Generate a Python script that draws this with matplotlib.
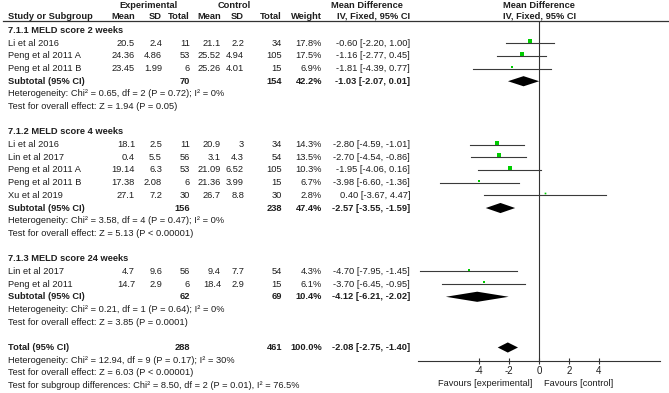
import matplotlib
matplotlib.use('Agg')
import matplotlib.pyplot as plt
from matplotlib.lines import Line2D
from matplotlib.transforms import blended_transform_factory

plt.rcParams['font.family'] = ['Liberation Sans', 'DejaVu Sans']
plt.rcParams['axes.unicode_minus'] = False

# ---- data ----
group_titles = ['7.1.1 MELD score 2 weeks', '7.1.2 MELD score 4 weeks', '7.1.3 MELD score 24 weeks']
study_group = [0, 0, 0, 1, 1, 1, 1, 1, 2, 2]
study_names = ['Li et al 2016', 'Peng et al 2011 A', 'Peng et al 2011 B',
               'Li et al 2016', 'Lin et al 2017', 'Peng et al 2011 A', 'Peng et al 2011 B', 'Xu et al 2019',
               'Lin et al 2017', 'Peng et al 2011']
exp_mean = [20.5, 24.36, 23.45, 18.1, 0.4, 19.14, 17.38, 27.1, 4.7, 14.7]
exp_sd = [2.4, 4.86, 1.99, 2.5, 5.5, 6.3, 2.08, 7.2, 9.6, 2.9]
exp_n = [11, 53, 6, 11, 56, 53, 6, 30, 56, 6]
ctl_mean = [21.1, 25.52, 25.26, 20.9, 3.1, 21.09, 21.36, 26.7, 9.4, 18.4]
ctl_sd = [2.2, 4.94, 4.01, 3, 4.3, 6.52, 3.99, 8.8, 7.7, 2.9]
ctl_n = [34, 105, 15, 34, 54, 105, 15, 30, 54, 15]
weight = [17.8, 17.5, 6.9, 14.3, 13.5, 10.3, 6.7, 2.8, 4.3, 6.1]
md = [-0.60, -1.16, -1.81, -2.80, -2.70, -1.95, -3.98, 0.40, -4.70, -3.70]
md_lo = [-2.20, -2.77, -4.39, -4.59, -4.54, -4.06, -6.60, -3.67, -7.95, -6.45]
md_hi = [1.00, 0.45, 0.77, -1.01, -0.86, 0.16, -1.36, 4.47, -1.45, -0.95]

sub_exp_n = [70, 156, 62]
sub_ctl_n = [154, 238, 69]
sub_weight = [42.2, 47.4, 10.4]
sub_md = [-1.03, -2.57, -4.12]
sub_lo = [-2.07, -3.55, -6.21]
sub_hi = [0.01, -1.59, -2.02]
sub_het = ['Heterogeneity: Chi² = 0.65, df = 2 (P = 0.72); I² = 0%',
           'Heterogeneity: Chi² = 3.58, df = 4 (P = 0.47); I² = 0%',
           'Heterogeneity: Chi² = 0.21, df = 1 (P = 0.64); I² = 0%']
sub_test = ['Test for overall effect: Z = 1.94 (P = 0.05)',
            'Test for overall effect: Z = 5.13 (P < 0.00001)',
            'Test for overall effect: Z = 3.85 (P = 0.0001)']

tot_exp_n = 288
tot_ctl_n = 461
tot_weight = 100.0
tot_md, tot_lo, tot_hi = -2.08, -2.75, -1.40
tot_notes = ['Heterogeneity: Chi² = 12.94, df = 9 (P = 0.17); I² = 30%',
             'Test for overall effect: Z = 6.03 (P < 0.00001)',
             'Test for subgroup differences: Chi² = 8.50, df = 2 (P = 0.01), I² = 76.5%']

xticks = [-4, -2, 0, 2, 4]

# ---- layout ----
W, H = 669, 393
fs = 6.7
tc = '#1e1e1e'
y0, pitch = 30.5, 12.68   # pixel y of row 0 and row spacing
ax_top, ax_bot = 21, 360.5  # pixel y of header rule and x axis
ax_l, ax_r = 418, 660
px_per_unit = 15.0

fig = plt.figure(figsize=(W / 100, H / 100), dpi=100)
ax = fig.add_axes([ax_l / W, (H - ax_bot) / H, (ax_r - ax_l) / W, (ax_bot - ax_top) / H])
half = (ax_r - ax_l) / 2 / px_per_unit
ax.set_xlim(-half, half)
ax.set_ylim((ax_bot - y0) / pitch, (ax_top - y0) / pitch)
for s in ['top', 'left', 'right']:
    ax.spines[s].set_visible(False)
ax.spines['bottom'].set_linewidth(0.8)
ax.spines['bottom'].set_color('#333333')
ax.set_yticks([])
ax.set_xticks(xticks)
ax.set_xticklabels([str(t) for t in xticks])
ax.tick_params(axis='x', direction='inout', length=5, width=0.8, labelsize=fs + 0.3,
               pad=1.5, colors='#333333', labelcolor=tc)
ax.patch.set_alpha(0)
ax.axvline(0, color='#333333', lw=0.8, zorder=1)

tr = blended_transform_factory(fig.transFigure, ax.transData)


def put(px, r, s, ha='right', bold=False):
    ax.text(px / W, r, s, transform=tr, ha=ha, va='center', fontsize=fs,
            fontweight='bold' if bold else 'normal', color=tc)


def diamond(r, m, lo, hi, h=0.4):
    ax.fill([lo, m, hi, m], [r, r - h, r, r + h], color='black', lw=0, zorder=3)


# header
put(148, -2.0, 'Experimental', ha='center', bold=True)
put(234, -2.0, 'Control', ha='center', bold=True)
put(367, -2.0, 'Mean Difference', ha='center', bold=True)
put(539, -2.0, 'Mean Difference', ha='center', bold=True)
hr = -1.12
put(8, hr, 'Study or Subgroup', ha='left', bold=True)
cols = [135, 162, 190, 221, 244, 282, 322, 410]
for x, lab in zip(cols, ['Mean', 'SD', 'Total', 'Mean', 'SD', 'Total', 'Weight', 'IV, Fixed, 95% CI']):
    put(x, hr, lab, bold=True)
put(540, hr, 'IV, Fixed, 95% CI', ha='center', bold=True)
fig.add_artist(Line2D([3 / W, 1.0], [(H - ax_top) / H] * 2, color='#333333', lw=0.9,
                      transform=fig.transFigure))

row = 0
for g in range(len(group_titles)):
    put(8, row, group_titles[g], ha='left', bold=True)
    row += 1
    for i in range(len(study_names)):
        if study_group[i] != g:
            continue
        put(8, row, study_names[i], ha='left')
        put(cols[0], row, '%g' % exp_mean[i])
        put(cols[1], row, '%g' % exp_sd[i])
        put(cols[2], row, '%d' % exp_n[i])
        put(cols[3], row, '%g' % ctl_mean[i])
        put(cols[4], row, '%g' % ctl_sd[i])
        put(cols[5], row, '%d' % ctl_n[i])
        put(cols[6], row, '%.1f%%' % weight[i])
        put(cols[7], row, '%.2f [%.2f, %.2f]' % (md[i], md_lo[i], md_hi[i]))
        ax.plot([md_lo[i], md_hi[i]], [row, row], color='#3a3a3a', lw=0.8, zorder=2)
        ax.plot(md[i], row - 0.15, marker='s', ms=0.72 * weight[i] ** 0.5, color='#00cc00',
                mew=0, zorder=4)
        row += 1
    put(8, row, 'Subtotal (95% CI)', ha='left', bold=True)
    put(cols[2], row, '%d' % sub_exp_n[g], bold=True)
    put(cols[5], row, '%d' % sub_ctl_n[g], bold=True)
    put(cols[6], row, '%.1f%%' % sub_weight[g], bold=True)
    put(cols[7], row, '%.2f [%.2f, %.2f]' % (sub_md[g], sub_lo[g], sub_hi[g]), bold=True)
    diamond(row, sub_md[g], sub_lo[g], sub_hi[g])
    row += 1
    put(8, row, sub_het[g], ha='left')
    row += 1
    put(8, row, sub_test[g], ha='left')
    row += 2

put(8, row, 'Total (95% CI)', ha='left', bold=True)
put(cols[2], row, '%d' % tot_exp_n, bold=True)
put(cols[5], row, '%d' % tot_ctl_n, bold=True)
put(cols[6], row, '%.1f%%' % tot_weight, bold=True)
put(cols[7], row, '%.2f [%.2f, %.2f]' % (tot_md, tot_lo, tot_hi), bold=True)
diamond(row, tot_md, tot_lo, tot_hi)
for note in tot_notes:
    row += 1
    put(8, row, note, ha='left')

fav_r = (383 - y0) / pitch
put(532, fav_r, 'Favours [experimental]', ha='right')
put(544, fav_r, 'Favours [control]', ha='left')

fig.savefig('out.png', dpi=100)
